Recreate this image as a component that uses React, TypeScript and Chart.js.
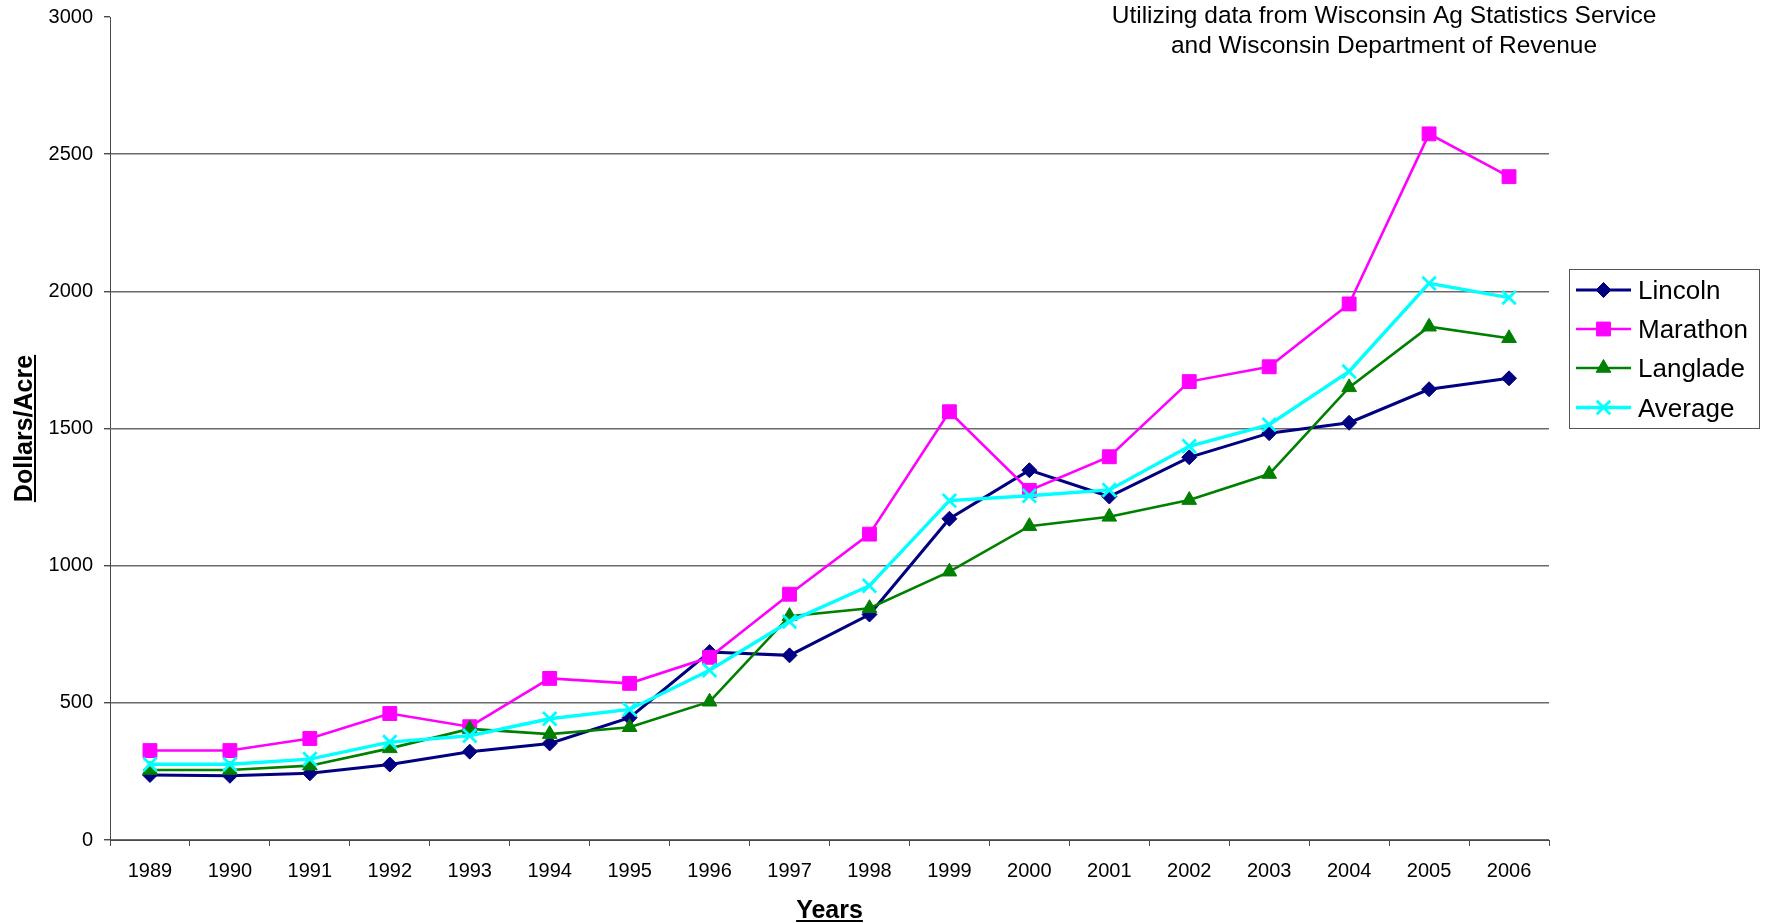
import React, { useEffect, useRef } from 'react';
import { Chart, registerables } from 'chart.js';
import { drawPoint } from 'chart.js/helpers';

Chart.register(...registerables);

const years = ['1989', '1990', '1991', '1992', '1993', '1994', '1995', '1996', '1997', '1998', '1999', '2000', '2001', '2002', '2003', '2004', '2005', '2006'];
const lincoln = [237, 234, 243, 275, 322, 352, 446, 685, 673, 822, 1171, 1348, 1252, 1395, 1483, 1521, 1643, 1683];
const marathon = [326, 326, 370, 461, 413, 589, 571, 666, 896, 1115, 1561, 1274, 1397, 1671, 1725, 1954, 2574, 2418];
const langlade = [255, 255, 271, 334, 405, 386, 411, 504, 816, 845, 978, 1144, 1178, 1239, 1334, 1650, 1871, 1829];
const average = [276, 276, 295, 357, 380, 442, 476, 619, 796, 927, 1237, 1255, 1276, 1435, 1514, 1708, 2029, 1977];
const seriesNames = ['Lincoln', 'Marathon', 'Langlade', 'Average'];
const yMin = 0;
const yMax = 3000;
const yStep = 500;
const titleLines = ['Utilizing data from Wisconsin Ag Statistics Service', 'and Wisconsin Department of Revenue'];
const xTitle = 'Years';
const yTitle = 'Dollars/Acre';

const FONT = '"Liberation Sans", Arial, Helvetica, sans-serif';
const AXIS = '#4a4a4a';
const GRID = '#6a6a6a';

const W = 1768;
const H = 923;

function underlinedText(ctx: CanvasRenderingContext2D, text: string, x: number, y: number, font: string) {
  ctx.font = font;
  ctx.textAlign = 'center';
  ctx.textBaseline = 'alphabetic';
  ctx.fillText(text, x, y);
  const w = ctx.measureText(text).width;
  ctx.fillRect(x - w / 2, y + 2, w, 2);
}

const extras = {
  id: 'extras',
  afterDraw(chart: any) {
    const ctx: CanvasRenderingContext2D = chart.ctx;
    const area = chart.chartArea;
    ctx.save();
    ctx.fillStyle = '#000';
    ctx.font = `24.5px ${FONT}`;
    ctx.textAlign = 'center';
    ctx.textBaseline = 'alphabetic';
    ctx.fillText(titleLines[0], 1384, 23);
    ctx.fillText(titleLines[1], 1384, 53);

    const cx = (area.left + area.right) / 2;
    underlinedText(ctx, xTitle, cx, 918, `bold 25px ${FONT}`);

    const cy = (area.top + area.bottom) / 2;
    ctx.save();
    ctx.translate(32, cy);
    ctx.rotate(-Math.PI / 2);
    underlinedText(ctx, yTitle, 0, 0, `bold 25px ${FONT}`);
    ctx.restore();

    const bx = 1569.5, by = 269.5, bw = 190, bh = 159;
    ctx.fillStyle = '#fff';
    ctx.fillRect(bx, by, bw, bh);
    ctx.strokeStyle = '#555';
    ctx.lineWidth = 1;
    ctx.strokeRect(bx, by, bw, bh);
    const rows = [290, 329, 368, 407.5];
    chart.data.datasets.forEach((ds: any, i: number) => {
      const y = rows[i];
      ctx.strokeStyle = ds.borderColor;
      ctx.lineWidth = ds.borderWidth;
      ctx.beginPath();
      ctx.moveTo(1576, y);
      ctx.lineTo(1631, y);
      ctx.stroke();
      ctx.fillStyle = ds.pointBackgroundColor;
      ctx.strokeStyle = ds.pointBorderColor;
      ctx.lineWidth = ds.pointBorderWidth;
      drawPoint(ctx, { pointStyle: ds.pointStyle, radius: ds.pointRadius, rotation: 0, borderWidth: ds.pointBorderWidth }, 1603.5, y);
      ctx.fillStyle = '#000';
      ctx.font = `26px ${FONT}`;
      ctx.textAlign = 'left';
      ctx.textBaseline = 'alphabetic';
      ctx.fillText(ds.label, 1638, y + 9);
    });
    ctx.restore();
  },
};

function mk(label: string, data: number[], color: string, style: string, radius: number, lw: number, pbw: number, order: number) {
  return {
    label,
    data,
    borderColor: color,
    backgroundColor: color,
    pointBackgroundColor: color,
    pointBorderColor: color,
    pointStyle: style,
    pointRadius: radius,
    pointHoverRadius: radius,
    pointBorderWidth: pbw,
    borderWidth: lw,
    tension: 0,
    fill: false,
    order,
  };
}

export default function App() {
  const ref = useRef<HTMLCanvasElement | null>(null);
  useEffect(() => {
    if (!ref.current) return;
    const chart = new Chart(ref.current, {
      type: 'line',
      data: {
        labels: years,
        datasets: [
          mk(seriesNames[0], lincoln, '#000080', 'rectRot', 7.5, 3, 1, 3),
          mk(seriesNames[1], marathon, '#FF00FF', 'rect', 9.8, 2.6, 1, 2),
          mk(seriesNames[2], langlade, '#008000', 'triangle', 8.5, 2.6, 1, 1),
          mk(seriesNames[3], average, '#00FFFF', 'crossRot', 9.5, 3.4, 2.8, 0),
        ] as any,
      },
      options: {
        responsive: false,
        animation: false,
        devicePixelRatio: 1,
        layout: { padding: { top: 17, right: 219, bottom: 0, left: 0 } },
        plugins: {
          legend: { display: false },
          title: { display: false },
          tooltip: { enabled: false },
        },
        scales: {
          x: {
            type: 'category',
            offset: true,
            grid: {
              offset: true,
              drawOnChartArea: false,
              drawTicks: true,
              tickLength: 6,
              color: AXIS,
              tickColor: AXIS,
              lineWidth: 1,
            },
            border: { display: true, color: AXIS, width: 1 },
            ticks: {
              color: '#000',
              font: { family: FONT, size: 20 },
              padding: 13,
              maxRotation: 0,
              minRotation: 0,
              autoSkip: false,
            },
            afterFit: (s: any) => {
              s.height = 83;
              s.paddingLeft = 0;
              s.paddingRight = 0;
            },
          },
          y: {
            type: 'linear',
            min: yMin,
            max: yMax,
            ticks: {
              stepSize: yStep,
              color: '#000',
              font: { family: FONT, size: 20 },
              padding: 11,
              callback: (v: any) => String(v),
            },
            grid: {
              drawTicks: true,
              tickLength: 6,
              color: (c: any) => (c.tick && c.tick.value === yMax ? 'rgba(0,0,0,0)' : GRID),
              tickColor: AXIS,
              lineWidth: 1.4,
            },
            border: { display: true, color: AXIS, width: 1 },
            afterFit: (s: any) => {
              s.width = 110;
              s.paddingTop = 0;
              s.paddingBottom = 0;
            },
          },
        },
      },
      plugins: [extras],
    } as any);
    return () => chart.destroy();
  }, []);
  return (
    <div style={{ position: 'absolute', left: 0, top: 0, width: W, height: H, background: '#fff' }}>
      <canvas ref={ref} width={W} height={H} style={{ width: W, height: H, display: 'block' }} />
    </div>
  );
}
